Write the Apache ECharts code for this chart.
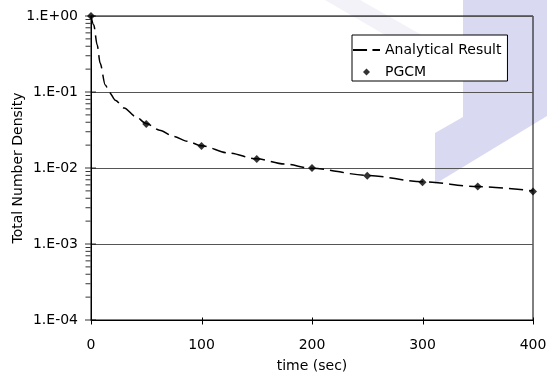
<!DOCTYPE html>
<html><head><meta charset="utf-8">
<script src="https://cdn.jsdelivr.net/npm/echarts@6/dist/echarts.min.js"></script>
<style>html,body{margin:0;padding:0;background:#fff}#c{width:547px;height:376px}</style>
</head><body><div id="c"></div>
<script>
// ---- data ----
const xTicks = [0, 100, 200, 300, 400];
const yMajorTicks = [1e-4, 1e-3, 1e-2, 1e-1, 1];
const yTickLabels = ['1.E-04', '1.E-03', '1.E-02', '1.E-01', '1.E+00'];
const yMinorTicks = [
  2e-4, 3e-4, 4e-4, 5e-4, 6e-4, 7e-4, 8e-4, 9e-4,
  2e-3, 3e-3, 4e-3, 5e-3, 6e-3, 7e-3, 8e-3, 9e-3,
  2e-2, 3e-2, 4e-2, 5e-2, 6e-2, 7e-2, 8e-2, 9e-2,
  2e-1, 3e-1, 4e-1, 5e-1, 6e-1, 7e-1, 8e-1, 9e-1
];
const analyticalT = [0, 2.5, 5.6, 8.3, 12.9, 16.8, 22, 30, 40, 50, 62, 75, 87, 100, 125, 150, 175, 200, 250, 300, 350, 400];
const analyticalV = [1, 0.76, 0.415, 0.239, 0.124, 0.098, 0.078, 0.0616, 0.048, 0.0385, 0.0315, 0.026, 0.0225, 0.0196, 0.0157, 0.0132, 0.0113, 0.0099, 0.0080, 0.0066, 0.0057, 0.0050];
const pgcmT = [0, 50, 100, 150, 200, 250, 300, 350, 400];
const pgcmV = [1, 0.038, 0.0195, 0.0131, 0.0100, 0.0079, 0.0065, 0.0057, 0.0049];
const seriesNames = ['Analytical Result', 'PGCM'];
const xName = 'time (sec)';
const yName = 'Total Number Density';

const FONT = 'DejaVu Sans';
const FS = 14;
const chart = echarts.init(document.getElementById('c'), null, {renderer: 'canvas'});

function yLabel(v) {
  const i = yMajorTicks.findIndex(t => Math.abs(Math.log10(t) - Math.log10(v)) < 1e-6);
  return i >= 0 ? yTickLabels[i] : '';
}

const watermark = [
  {id: 'wm1', type: 'polygon', z: -10, silent: true,
   shape: {points: [[325, 0], [360, 0], [522, 92], [490, 96]]},
   style: {fill: '#f2f2f8'}},
  {id: 'wm2', type: 'polygon', z: -9, silent: true,
   shape: {points: [[463, 0], [547, 0], [547, 116], [435, 184], [435, 133], [463, 117]]},
   style: {fill: '#d9d9f2'}}
];

const tickSeries = (name, values, size, offset) => ({
  name: name, type: 'scatter', silent: true, clip: false, z: 6,
  symbol: 'rect', symbolSize: size, symbolOffset: offset,
  data: values.map(v => [xTicks[0], v]),
  itemStyle: {color: '#000'}
});

const option = {
  backgroundColor: '#fff',
  animation: false,
  textStyle: {fontFamily: FONT},
  graphic: watermark,
  grid: {left: 91, right: 14, top: 16, bottom: 56, outerBoundsMode: 'none',
         show: true, borderColor: '#000', borderWidth: 1, backgroundColor: 'transparent'},
  legend: {
    orient: 'vertical', left: 352, top: 35,
    data: [
      {name: seriesNames[0], icon: 'path://M0,0H13V2H0Z M18,0H25V2H18Z'},
      {name: seriesNames[1], icon: 'path://M4,0L8,4L4,8L0,4Z'}
    ],
    backgroundColor: '#fff', borderColor: '#000', borderWidth: 1,
    padding: [8, 6, 2, 1], itemGap: 8, itemWidth: 27, itemHeight: 7,
    textStyle: {fontFamily: FONT, fontSize: FS, color: '#000'}
  },
  xAxis: {type: 'value', min: xTicks[0], max: xTicks[xTicks.length - 1], interval: 100,
     name: xName, nameLocation: 'middle', nameGap: 39,
     nameTextStyle: {fontFamily: FONT, fontSize: FS, color: '#000'},
     axisLine: {lineStyle: {color: '#000', width: 1}},
     axisTick: {show: false},
     axisLabel: {margin: 18, fontFamily: FONT, fontSize: FS, color: '#000'},
     splitLine: {show: false}},
  yAxis: {type: 'log', logBase: 10, min: yMajorTicks[0], max: yMajorTicks[yMajorTicks.length - 1],
     name: yName, nameLocation: 'middle', nameGap: 66, nameMoveOverlap: false,
     nameTextStyle: {fontFamily: FONT, fontSize: FS, color: '#000'},
     axisLine: {show: true, lineStyle: {color: '#000', width: 1}},
     axisTick: {show: false},
     axisLabel: {margin: 13, align: 'right', fontFamily: FONT, fontSize: FS, color: '#000', formatter: yLabel},
     splitLine: {show: true, lineStyle: {color: '#555', width: 1}}},
  series: [
    {name: seriesNames[0], type: 'line', symbol: 'none', smooth: 0.3, smoothMonotone: 'x',
     data: analyticalT.map((t, i) => [t, analyticalV[i]]),
     lineStyle: {color: '#000', width: 1.5, type: [14, 6]},
     itemStyle: {color: '#000'}, z: 3},
    {name: seriesNames[1], type: 'scatter', symbol: 'diamond', symbolSize: [8, 8], clip: false,
     data: pgcmT.map((t, i) => [t, pgcmV[i]]),
     itemStyle: {color: '#000'}, z: 4},
    tickSeries('yMinorTicks', yMinorTicks, [5, 1], [-3, 0]),
    tickSeries('yMajorTicks', yMajorTicks, [11, 1], [-0.5, 0])
  ]
};
chart.setOption(option);

// x-axis crossing ticks placed through the axis scales
const finder = {xAxisIndex: 0, yAxisIndex: 0};
const tickEls = [];
xTicks.forEach((t, i) => {
  const p = chart.convertToPixel(finder, [t, yMajorTicks[0]]);
  const x = Math.round(p[0]) + 0.5, y = Math.round(p[1]) + 0.5;
  tickEls.push({id: 'xt' + i, type: 'line', z: 100, silent: true,
    shape: {x1: x, y1: y - 3, x2: x, y2: y + 4}, style: {stroke: '#000', lineWidth: 1}});
});
chart.setOption({graphic: watermark.concat(tickEls)});
</script>
</body></html>
